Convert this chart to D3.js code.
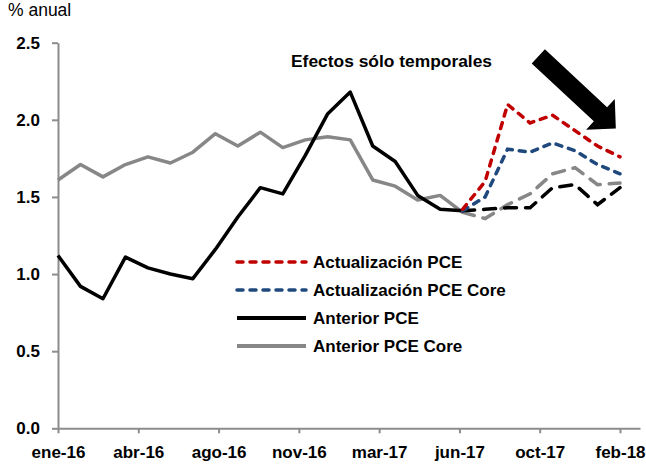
<!DOCTYPE html>
<html>
<head>
<meta charset="utf-8">
<script src="https://cdn.jsdelivr.net/npm/d3@7"></script>
<style>
  html, body { margin: 0; padding: 0; background: #fff; }
  svg { display: block; }
  text { font-family: "Liberation Sans", Arial, sans-serif; }
</style>
</head>
<body>
<svg id="chart" width="646" height="468"></svg>
<script>
// ---- data ----
const months = ["ene-16","feb-16","mar-16","abr-16","may-16","jun-16","jul-16","ago-16","sep-16","oct-16","nov-16","dic-16",
                "ene-17","feb-17","mar-17","abr-17","may-17","jun-17","jul-17","ago-17","sep-17","oct-17","nov-17","dic-17",
                "ene-18","feb-18"];
const tickLabels = ["ene-16","abr-16","ago-16","nov-16","mar-17","jun-17","oct-17","feb-18"];
const yTicks = [0.0, 0.5, 1.0, 1.5, 2.0, 2.5];

// Anterior PCE (solid through jul-17, dashed afterwards)
const anteriorPCE = [1.12,0.92,0.84,1.11,1.04,1.00,0.97,1.16,1.37,1.56,1.52,1.77,
                     2.04,2.18,1.83,1.73,1.51,1.42,1.41,1.42,1.43,1.43,1.56,1.58,1.45,1.56];
// Anterior PCE Core
const anteriorCore = [1.61,1.71,1.63,1.71,1.76,1.72,1.79,1.91,1.83,1.92,1.82,1.87,
                      1.89,1.87,1.61,1.57,1.48,1.51,1.40,1.36,1.45,1.52,1.65,1.69,1.58,1.59];
// Actualización (from jul-17)
const actualPCE  = [1.42,1.60,2.10,1.98,2.03,1.93,1.83,1.76];
const actualCore = [1.41,1.50,1.81,1.79,1.85,1.80,1.71,1.65];
const actualStart = 18;   // index of jul-17
const solidEnd = 18;      // last index drawn solid for "Anterior" series

const legendItems = [
  {name: "Actualización PCE",      color: "#C00000", dash: true},
  {name: "Actualización PCE Core", color: "#1F497D", dash: true},
  {name: "Anterior PCE",           color: "#000000", dash: false},
  {name: "Anterior PCE Core",      color: "#878787", dash: false}
];

// ---- chart ----
const svg = d3.select("#chart");
const x0 = 58, xLast = 620, xEnd = 640, yTop = 42.7, yBot = 428.3;
const pxPerMonth = (xLast - x0) / (months.length - 1);
const x = d3.scaleLinear().domain([0, (xEnd - x0) / pxPerMonth]).range([x0, xEnd]);
const y = d3.scaleLinear().domain([0, 2.5]).range([yBot, yTop]);

const axisColor = "#8c8c8c";

// y axis
const yAxis = svg.append("g").attr("transform", `translate(${x0},0)`)
  .call(d3.axisLeft(y).tickValues(yTicks).tickFormat(d3.format(".1f")).tickSize(6).tickSizeOuter(0).tickPadding(12));
// x axis
const nT = tickLabels.length;
const xTickVals = tickLabels.map((_, i) => i * (months.length - 1) / (nT - 1));
const xAxis = svg.append("g").attr("transform", `translate(0,${yBot})`)
  .call(d3.axisBottom(x).tickValues(xTickVals).tickFormat((d, i) => tickLabels[i]).tickSize(5).tickSizeOuter(0).tickPadding(9));

[yAxis, xAxis].forEach(g => {
  g.select(".domain").attr("stroke", axisColor).attr("stroke-width", 2);
  g.selectAll(".tick line").attr("stroke", axisColor).attr("stroke-width", 2);
  g.selectAll(".tick text").attr("fill", "#000").attr("font-size", 17).attr("font-weight", "bold")
    .attr("font-family", "'Liberation Sans', Arial, sans-serif");
});
xAxis.selectAll(".tick text").attr("dy", "0.9em");

// unit label
svg.append("text").attr("x", 8).attr("y", 16).attr("font-size", 17.5).text("% anual");

const line = d3.line().x(d => x(d.i)).y(d => y(d.v));
const seg = (arr, from, to, offset = 0) =>
  arr.map((v, k) => ({i: k + offset, v})).filter(d => d.i >= from && d.i <= to);

// Anterior PCE Core solid
svg.append("path").datum(seg(anteriorCore, 0, solidEnd))
  .attr("d", line).attr("fill", "none").attr("stroke", "#878787").attr("stroke-width", 3.5)
  .attr("stroke-linejoin", "round");
// Anterior PCE solid
svg.append("path").datum(seg(anteriorPCE, 0, solidEnd))
  .attr("d", line).attr("fill", "none").attr("stroke", "#000").attr("stroke-width", 3.5)
  .attr("stroke-linejoin", "round");
// dashed continuation of Anterior
svg.append("path").datum(seg(anteriorCore, solidEnd, months.length - 1))
  .attr("d", line).attr("fill", "none").attr("stroke", "#878787").attr("stroke-width", 3.5)
  .attr("stroke-dasharray", "12,9").attr("stroke-linecap", "round");
svg.append("path").datum(seg(anteriorPCE, solidEnd, months.length - 1))
  .attr("d", line).attr("fill", "none").attr("stroke", "#000").attr("stroke-width", 3.5)
  .attr("stroke-dasharray", "12,9").attr("stroke-linecap", "round");
// Actualización
svg.append("path").datum(seg(actualCore, 0, 99, actualStart))
  .attr("d", line).attr("fill", "none").attr("stroke", "#1F497D").attr("stroke-width", 3.5)
  .attr("stroke-dasharray", "6,7").attr("stroke-linecap", "round");
svg.append("path").datum(seg(actualPCE, 0, 99, actualStart))
  .attr("d", line).attr("fill", "none").attr("stroke", "#C00000").attr("stroke-width", 3.5)
  .attr("stroke-dasharray", "6,7").attr("stroke-linecap", "round");

// legend
const lg = svg.append("g").attr("transform", "translate(236,262)");
legendItems.forEach((it, k) => {
  const g = lg.append("g").attr("transform", `translate(0,${k * 28})`);
  g.append("line").attr("x1", 1).attr("x2", 70).attr("y1", 0).attr("y2", 0)
    .attr("stroke", it.color).attr("stroke-width", it.dash ? 3.5 : 4)
    .attr("stroke-dasharray", it.dash ? "6,7" : null)
    .attr("stroke-linecap", it.dash ? "round" : "butt");
  g.append("text").attr("x", 77).attr("y", 0).attr("dy", "0.35em")
    .attr("font-size", 17).attr("font-weight", "bold").text(it.name);
});

// annotation text
svg.append("text").attr("x", 291).attr("y", 67).attr("font-size", 17.4).attr("font-weight", "bold")
  .text("Efectos sólo temporales");

// big arrow
const L = 106, headLen = 21, headHalf = 21, shaftHalf = 9.7;
svg.append("path")
  .attr("transform", "translate(538.3,56.3) rotate(43)")
  .attr("d", `M0,${-shaftHalf} L${L - headLen},${-shaftHalf} L${L - headLen},${-headHalf} L${L},0 L${L - headLen},${headHalf} L${L - headLen},${shaftHalf} L0,${shaftHalf} Z`)
  .attr("fill", "#000");
</script>
</body>
</html>
